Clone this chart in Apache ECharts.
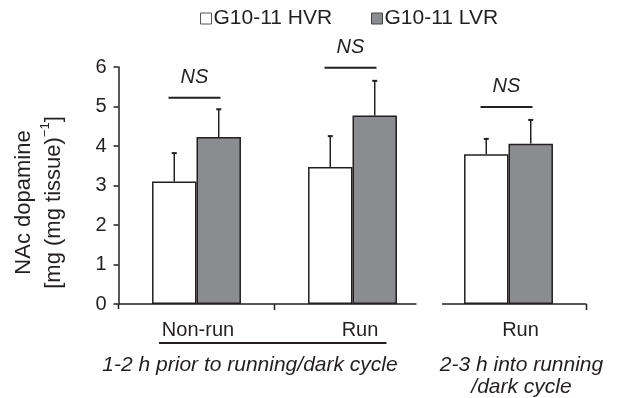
<!DOCTYPE html>
<html><head><meta charset="utf-8">
<script src="https://cdn.jsdelivr.net/npm/echarts@6/dist/echarts.min.js"></script>
<style>html,body{margin:0;padding:0;background:#fff}#c{width:617px;height:398px}</style>
</head><body><div id="c"></div>
<script>
// ---- data ----
const categories = ['Non-run', 'Run', 'Run'];
const seriesNames = ['G10-11 HVR', 'G10-11 LVR'];
const hvrMeans = [3.10, 3.47, 3.79];
const hvrErr   = [0.72, 0.78, 0.39];
const lvrMeans = [4.23, 4.77, 4.06];
const lvrErr   = [0.70, 0.88, 0.60];
const nsLabels = ['NS', 'NS', 'NS'];
const nsLevels = [5.22, 5.98, 4.99];
const yTicks = [0, 1, 2, 3, 4, 5, 6];
const groupTitles = ['1-2 h prior to running/dark cycle', '2-3 h into running\n/dark cycle'];

const FONT = '"Liberation Sans", Arial, Helvetica, sans-serif';
const INK = '#231f20';
const GRAY = '#8b8c8f';
const BARW = 0.285;

const errData = [];
hvrMeans.forEach((m, i) => errData.push([i, m, m + hvrErr[i], 0]));
lvrMeans.forEach((m, i) => errData.push([i, m, m + lvrErr[i], 1]));
const nsData = nsLevels.map((v, i) => [i, v, nsLabels[i]]);

const chart = echarts.init(document.getElementById('c'), null, {renderer: 'canvas'});
const option = {
  animation: false,
  textStyle: {fontFamily: FONT},
  grid: {left: 118.5, right: 30.5, top: 67, bottom: 94},
  legend: [
    {data: [seriesNames[0]], left: 200, top: 8, padding: 0, icon: 'rect', itemWidth: 11, itemHeight: 11,
     itemStyle: {borderWidth: 1, borderColor: '#555'},
     textStyle: {fontSize: 21, color: INK, fontFamily: FONT, padding: [0, 0, 0, -3]}},
    {data: [seriesNames[1]], left: 371, top: 8, padding: 0, icon: 'rect', itemWidth: 11, itemHeight: 11,
     itemStyle: {borderWidth: 1, borderColor: '#444'},
     textStyle: {fontSize: 21, color: INK, fontFamily: FONT, padding: [0, 0, 0, -3]}}
  ],
  xAxis: {
    type: 'category', data: categories, boundaryGap: true,
    axisLine: {show: false}, axisTick: {show: false}, splitLine: {show: false},
    axisLabel: {
      margin: 16, fontSize: 20, color: INK, fontFamily: FONT,
      formatter: (v, i) => i === 0 ? '{a|' + v + '}' : (i === 1 ? '{b|' + v + '}' : '{c|' + v + '}'),
      rich: {
        a: {fontSize: 20, fontFamily: FONT, color: INK, padding: [0, 0, 0, 3]},
        b: {fontSize: 20, fontFamily: FONT, color: INK, padding: [0, 0, 0, 15]},
        c: {fontSize: 20, fontFamily: FONT, color: INK, padding: [0, 0, 0, 24]}
      }
    }
  },
  yAxis: {
    type: 'value', min: yTicks[0], max: yTicks[yTicks.length - 1], interval: 1,
    axisLine: {show: true, lineStyle: {color: INK, width: 1.5}},
    axisTick: {show: true, inside: false, length: 5, lineStyle: {color: INK, width: 1.5}},
    splitLine: {show: false},
    axisLabel: {margin: 12, fontSize: 20, color: INK, fontFamily: FONT},
    name: '{t|NAc dopamine}\n{t|[mg (mg tissue)}{s|−1}{t|]}',
    nameLocation: 'middle', nameRotate: 90, nameGap: 50,
    nameTextStyle: {
      fontFamily: FONT, color: INK, padding: [0, 34, 0, 0],
      rich: {
        t: {fontSize: 22, lineHeight: 30, fontFamily: FONT, color: INK},
        s: {fontSize: 13, lineHeight: 14, verticalAlign: 'top', fontFamily: FONT, color: INK}
      }
    }
  },
  series: [
    {name: seriesNames[0], type: 'bar', data: hvrMeans, barWidth: (BARW * 100) + '%', barGap: '0%',
     itemStyle: {color: '#ffffff', borderColor: INK, borderWidth: 1.5}},
    {name: seriesNames[1], type: 'bar', data: lvrMeans, barWidth: (BARW * 100) + '%', barGap: '0%',
     itemStyle: {color: GRAY, borderColor: INK, borderWidth: 1.5}},
    {type: 'custom', z: 5, data: errData, silent: true,
     renderItem(params, api) {
       const idx = api.value(0), s = api.value(3);
       const band = api.size([1, 0])[0];
       const bw = band * BARW;
       const cx = api.coord([idx, 0])[0] + (s === 0 ? -bw / 2 : bw / 2);
       const yb = api.coord([idx, api.value(1)])[1];
       const yt = api.coord([idx, api.value(2)])[1];
       return {type: 'group', children: [
         {type: 'line', shape: {x1: cx, y1: yb, x2: cx, y2: yt}, style: {stroke: INK, lineWidth: 1.5}},
         {type: 'line', shape: {x1: cx - 2.5, y1: yt, x2: cx + 2.5, y2: yt}, style: {stroke: INK, lineWidth: 2}}
       ]};
     }},
    {type: 'custom', z: 5, data: nsData, silent: true, clip: false,
     renderItem(params, api) {
       const idx = api.value(0);
       const p = api.coord([idx, api.value(1)]);
       const cx = p[0] - 2;
       return {type: 'group', children: [
         {type: 'line', shape: {x1: cx - 26, y1: p[1], x2: cx + 26, y2: p[1]}, style: {stroke: INK, lineWidth: 2}},
         {type: 'text', style: {x: cx, y: p[1] - 20, text: nsLabels[idx], textAlign: 'center', textVerticalAlign: 'middle',
           fontSize: 20, fontStyle: 'italic', fontFamily: FONT, fill: INK}}
       ]};
     }}
  ]
};
chart.setOption(option);

// axis decorations computed from the chart's own scales
const c0 = chart.convertToPixel({gridIndex: 0}, [0, 0]);
const c1 = chart.convertToPixel({gridIndex: 0}, [1, 0]);
const c2 = chart.convertToPixel({gridIndex: 0}, [2, 0]);
const band = c1[0] - c0[0];
const y0 = c0[1];
const xL = c0[0] - band / 2;
const b1 = c0[0] + band / 2, b2 = c1[0] + band / 2, b3 = c2[0] + band / 2;
const ls = {stroke: INK, lineWidth: 1.5};
chart.setOption({graphic: [
  {type: 'line', shape: {x1: xL, y1: y0, x2: b2 - 14, y2: y0}, style: ls},
  {type: 'line', shape: {x1: b2 + 11.5, y1: y0, x2: b3, y2: y0}, style: ls},
  {type: 'line', shape: {x1: b1, y1: y0, x2: b1, y2: y0 + 6}, style: ls},
  {type: 'line', shape: {x1: b3, y1: y0, x2: b3, y2: y0 + 6}, style: ls},
  {type: 'line', shape: {x1: xL, y1: y0, x2: xL, y2: y0 + 5}, style: ls},
  {type: 'line', shape: {x1: c0[0] - 37.5, y1: y0 + 39, x2: c1[0] + 34, y2: y0 + 39}, style: {stroke: INK, lineWidth: 2}},
  {type: 'text', style: {x: (c0[0] + c1[0]) / 2 - 24.5, y: y0 + 61, text: groupTitles[0], textAlign: 'center', textVerticalAlign: 'middle',
    fontSize: 21, fontStyle: 'italic', fontFamily: FONT, fill: INK}},
  {type: 'text', style: {x: c2[0] + 13, y: y0 + 72, text: groupTitles[1], textAlign: 'center', textVerticalAlign: 'middle',
    fontSize: 21, fontStyle: 'italic', fontFamily: FONT, fill: INK, lineHeight: 22}}
]});
</script>
</body></html>
